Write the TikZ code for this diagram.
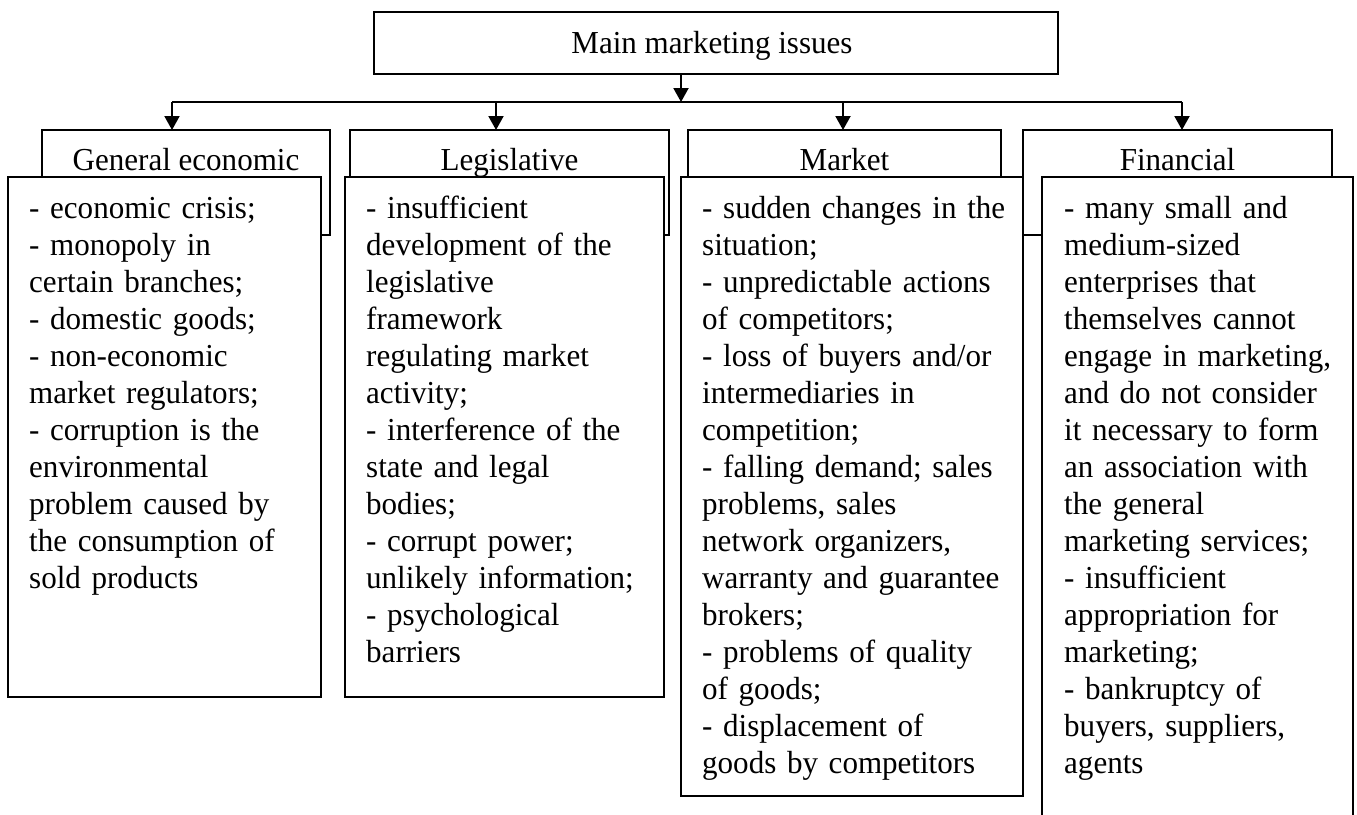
\documentclass[tikz,border=0pt]{standalone}
\usepackage{fontspec}
\setmainfont[FakeStretch=0.97]{Liberation Serif}
\usetikzlibrary{arrows.meta}
\tikzset{
  box/.style={draw=black, line width=2pt, fill=white, inner sep=0pt, outer sep=0pt, anchor=north west},
  hdr/.style={inner sep=0pt, anchor=base, font=\fontsize{32}{37}\selectfont},
  body/.style={inner sep=0pt, anchor=north west, align=left, text width=335pt, font=\fontsize{32}{37}\selectfont},
  arr/.style={line width=2pt, -{Triangle[length=14pt,width=15pt]}},
  bus/.style={line width=2pt}
}
\begin{document}
\begin{tikzpicture}[x=1pt,y=-1pt]
\clip (0,0) rectangle (1357,814);
\fill[white] (0,0) rectangle (1357,814);
% main box
\node[box, line width=2.3pt, minimum width=684pt, minimum height=62pt] (main) at (374,12) {};
\node[hdr] (maintxt) at (712,53) {Main marketing issues};
% back (header) boxes
\node[box, minimum width=288pt, minimum height=105pt] (geback) at (42,130) {};
\node[box, minimum width=319pt, minimum height=105pt] (legback) at (350,130) {};
\node[box, minimum width=313pt, minimum height=105pt] (mkback) at (688,130) {};
\node[box, minimum width=309pt, minimum height=105pt] (finback) at (1023,130) {};
\node[hdr] (getitle) at (186,170) {General economic};
\node[hdr] (legtitle) at (509.5,170) {Legislative};
\node[hdr] (mktitle) at (844.5,170) {Market};
\node[hdr] (fintitle) at (1177.5,170) {Financial};
% front boxes
\node[box, minimum width=313pt, minimum height=520pt] (gefront) at (8,177) {};
\node[box, minimum width=319pt, minimum height=520pt] (legfront) at (345,177) {};
\node[box, minimum width=342pt, minimum height=619pt] (mkfront) at (681,177) {};
\node[box, minimum width=311pt, minimum height=660pt] (finfront) at (1042,177) {};
% connectors
\coordinate (mainout) at (681,74);
\coordinate (busmid) at (681,102);
\coordinate (b1) at (172,102);
\coordinate (b2) at (496,102);
\coordinate (b3) at (843,102);
\coordinate (b4) at (1182,102);
\draw[bus] (b1) -- (b4);
\draw[arr] (mainout) -- (busmid);
\draw[arr] (b1) -- (b1 |- geback.north);
\draw[arr] (b2) -- (b2 |- legback.north);
\draw[arr] (b3) -- (b3 |- mkback.north);
\draw[arr] (b4) -- (b4 |- finback.north);
% texts
\node[body] (getext) at (29,192.1) {\strut- economic crisis;\\
- monopoly in\\
certain branches;\\
- domestic goods;\\
- non-economic\\
market regulators;\\
- corruption is the\\
environmental\\
problem caused by\\
the consumption of\\
sold products};
\node[body] (legtext) at (366,192.1) {\strut- insufficient\\
development of the\\
legislative\\
framework\\
regulating market\\
activity;\\
- interference of the\\
state and legal\\
bodies;\\
- corrupt power;\\
unlikely information;\\
- psychological\\
barriers};
\node[body] (mktext) at (702,192.1) {\strut- sudden changes in the\\
situation;\\
- unpredictable actions\\
of competitors;\\
- loss of buyers and/or\\
intermediaries in\\
competition;\\
- falling demand; sales\\
problems, sales\\
network organizers,\\
warranty and guarantee\\
brokers;\\
- problems of quality\\
of goods;\\
- displacement of\\
goods by competitors};
\node[body] (fintext) at (1064,192.1) {\strut- many small and\\
medium-sized\\
enterprises that\\
themselves cannot\\
engage in marketing,\\
and do not consider\\
it necessary to form\\
an association with\\
the general\\
marketing services;\\
- insufficient\\
appropriation for\\
marketing;\\
- bankruptcy of\\
buyers, suppliers,\\
agents};
\end{tikzpicture}
\end{document}
